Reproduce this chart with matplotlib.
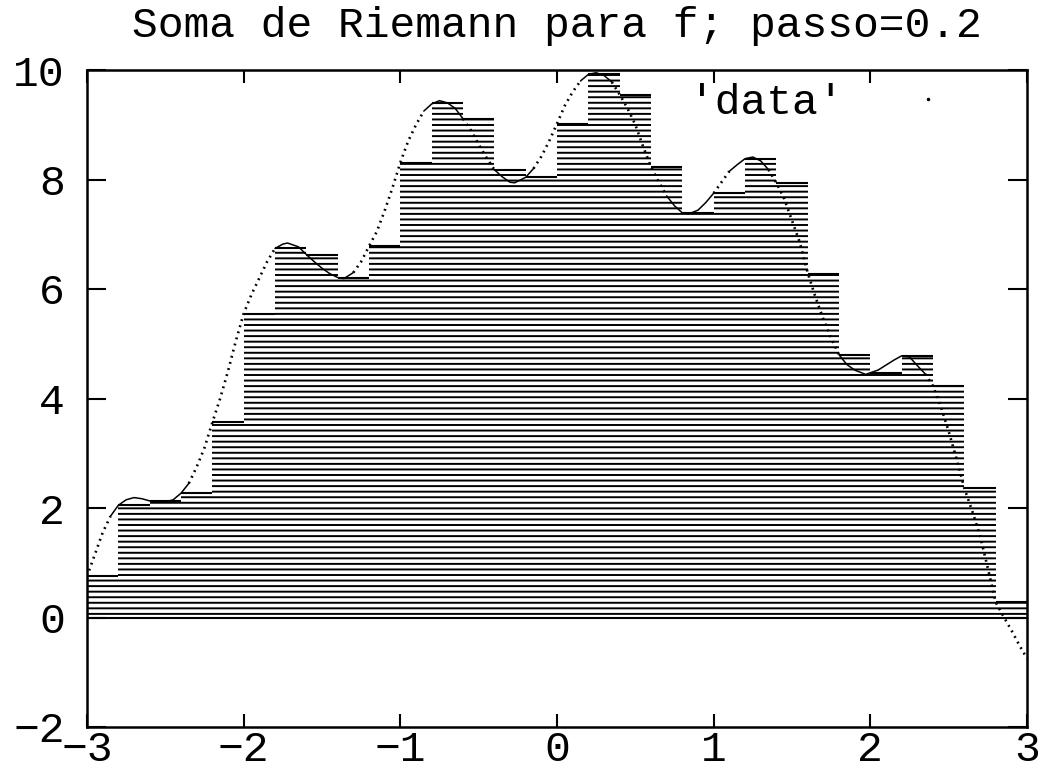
import numpy as np
import matplotlib
matplotlib.use("Agg")
import matplotlib.pyplot as plt
from matplotlib.lines import Line2D

# ---- data ----
step = 0.2
bar_left = [-3.0, -2.8, -2.6, -2.4, -2.2, -2.0, -1.8, -1.6, -1.4, -1.2,
            -1.0, -0.8, -0.6, -0.4, -0.2, 0.0, 0.2, 0.4, 0.6, 0.8,
            1.0, 1.2, 1.4, 1.6, 1.8, 2.0, 2.2, 2.4, 2.6, 2.8]
bar_height = [0.75, 2.05, 2.13, 2.28, 3.57, 5.54, 6.74, 6.63, 6.20, 6.79,
              8.31, 9.39, 9.11, 8.18, 8.04, 9.02, 9.93, 9.54, 8.22, 7.39,
              7.75, 8.38, 7.93, 6.28, 4.79, 4.47, 4.78, 4.23, 2.36, 0.28]

curve_x = [-3.0, -2.95, -2.9, -2.85, -2.8, -2.75, -2.7, -2.65, -2.6, -2.55,
           -2.5, -2.45, -2.4, -2.35, -2.3, -2.25, -2.2, -2.15, -2.1, -2.05,
           -2.0, -1.95, -1.9, -1.85, -1.8, -1.75, -1.72, -1.65, -1.6, -1.55,
           -1.5, -1.45, -1.4, -1.36, -1.3, -1.25, -1.2, -1.15, -1.1, -1.05,
           -1.0, -0.95, -0.9, -0.85, -0.8, -0.75, -0.7, -0.65, -0.6, -0.55,
           -0.5, -0.45, -0.4, -0.35, -0.3, -0.27, -0.2, -0.15, -0.1, -0.05,
           0.0, 0.05, 0.1, 0.15, 0.2, 0.25, 0.3, 0.35, 0.4, 0.45,
           0.5, 0.55, 0.6, 0.65, 0.7, 0.75, 0.8, 0.84, 0.9, 0.95,
           1.0, 1.05, 1.1, 1.15, 1.2, 1.25, 1.3, 1.35, 1.4, 1.45,
           1.5, 1.55, 1.6, 1.65, 1.7, 1.75, 1.8, 1.85, 1.9, 1.97,
           2.0, 2.05, 2.1, 2.15, 2.2, 2.25, 2.3, 2.35, 2.4, 2.45,
           2.5, 2.55, 2.6, 2.65, 2.7, 2.75, 2.8, 2.85, 2.9, 2.95, 3.0]
curve_y = [0.75, 1.15, 1.55, 1.85, 2.05, 2.15, 2.19, 2.17, 2.13, 2.11,
           2.11, 2.15, 2.27, 2.45, 2.75, 3.10, 3.56, 4.00, 4.50, 5.05,
           5.55, 5.90, 6.20, 6.50, 6.74, 6.82, 6.84, 6.77, 6.63, 6.50,
           6.38, 6.28, 6.21, 6.19, 6.30, 6.50, 6.78, 7.05, 7.43, 7.85,
           8.31, 8.70, 9.00, 9.25, 9.38, 9.44, 9.40, 9.30, 9.11, 8.90,
           8.64, 8.40, 8.18, 8.05, 7.95, 7.94, 8.04, 8.20, 8.42, 8.70,
           9.02, 9.35, 9.60, 9.80, 9.92, 9.95, 9.90, 9.78, 9.55, 9.30,
           9.00, 8.60, 8.23, 7.95, 7.70, 7.52, 7.39, 7.37, 7.44, 7.58,
           7.75, 7.95, 8.15, 8.27, 8.38, 8.41, 8.34, 8.18, 7.94, 7.65,
           7.25, 6.85, 6.30, 5.85, 5.45, 5.10, 4.80, 4.62, 4.52, 4.44,
           4.47, 4.52, 4.61, 4.70, 4.78, 4.76, 4.60, 4.45, 4.23, 3.85,
           3.40, 2.90, 2.36, 1.95, 1.50, 0.90, 0.28, 0.02, -0.23, -0.50, -0.75]

title = "Soma de Riemann para f; passo=0.2"
legend_label = "'data'"
xticks = [-3, -2, -1, 0, 1, 2, 3]
yticks = [-2, 0, 2, 4, 6, 8, 10]

# ---- style ----
plt.rcParams['font.family'] = ['Liberation Mono', 'DejaVu Sans']
plt.rcParams['font.size'] = 31
plt.rcParams['hatch.linewidth'] = 1.4
plt.rcParams['hatch.color'] = 'black'

fig = plt.figure(figsize=(10.43, 7.72), dpi=100)
W, H = 1043, 772
ax = fig.add_axes([87 / W, 1 - 727 / H, 940 / W, 657 / H])

# bars (Riemann rectangles) with horizontal line fill
bl = np.array(bar_left)
bh = np.array(bar_height)
ax.bar(bl, bh, width=step, align='edge', facecolor='none',
       edgecolor='black', linewidth=0, hatch='---', zorder=2)
ax.hlines(bh, bl, bl + step, colors='black', linewidth=1.5, zorder=3)
ax.axhline(0, color='black', linewidth=1.5, zorder=3)

# the function curve: solid where flat, dotted where steep (dot sampling look)
cx = np.array(curve_x)
cy = np.array(curve_y)
slope = np.abs(np.diff(cy) / np.diff(cx))
flat = slope < 4.0
i = 0
n = len(flat)
while i < n:
    j = i
    while j + 1 < n and flat[j + 1] == flat[i]:
        j += 1
    seg_x = cx[i:j + 2]
    seg_y = cy[i:j + 2]
    if flat[i]:
        ax.plot(seg_x, seg_y, color='black', linewidth=1.1, zorder=4,
                solid_capstyle='round', solid_joinstyle='round')
    else:
        ax.plot(seg_x, seg_y, color='black', linewidth=1.9, zorder=4,
                linestyle=(0, (0.7, 1.7)), dash_capstyle='butt')
    i = j + 1

# axes styling
ax.set_xlim(-3, 3)
ax.set_ylim(-2, 10)
ax.set_xticks(xticks)
ax.set_yticks(yticks)
for s in ax.spines.values():
    s.set_linewidth(1.8)
ax.tick_params(axis='x', which='both', direction='in', length=9.5, width=1.5,
               top=True, bottom=True, pad=2)
ax.tick_params(axis='y', which='both', direction='in', length=13.5, width=1.5,
               left=True, right=True, pad=16)

ax.set_title(title, pad=24, fontsize=31)

handle = Line2D([], [], linestyle='none', marker='.', markersize=3,
                color='black')
ax.legend([handle], [legend_label], loc='center right',
          bbox_to_anchor=((971 - 87) / 940, 1 - 33 / 657),
          frameon=False, markerfirst=False, handlelength=2.0,
          handletextpad=0.95, borderpad=0, borderaxespad=0, fontsize=31)

fig.savefig("out.png", dpi=100)
